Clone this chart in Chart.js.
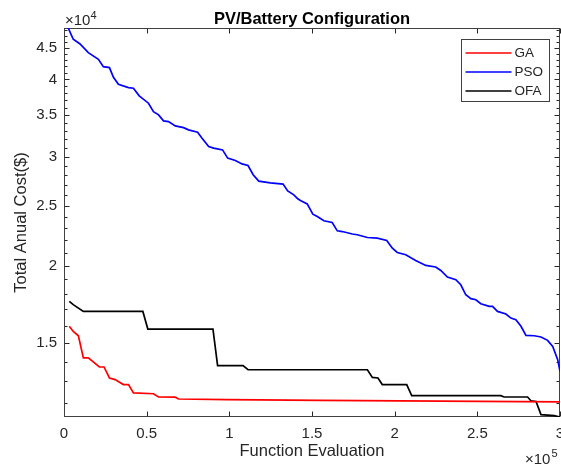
<!DOCTYPE html>
<html>
<head>
<meta charset="utf-8">
<title>PV/Battery Configuration</title>
<script src="https://cdn.jsdelivr.net/npm/chart.js@4.4.1/dist/chart.umd.min.js"></script>
<style>
    html, body { margin: 0; padding: 0; background: #fff; }
    canvas { display: block; }
</style>
</head>
<body>
<canvas id="costChart" width="561" height="470"></canvas>
<script>
// Convergence curves (function evaluations vs. total annual cost in $)
const seriesNames = ['GA', 'PSO', 'OFA'];
const seriesColors = ['#ff0000', '#0000ff', '#000000'];

const gaEvals = [3200, 5600, 8700, 11700, 14700, 21400, 24200, 27500, 30900, 35900, 39000, 42000,
    54100, 57200, 67300, 69300, 98600, 155200, 300000];
const gaCost = [15960, 15660, 15410, 14190, 14190, 13720, 13720, 13170, 13090, 12850, 12850, 12460,
    12420, 12270, 12260, 12180, 12150, 12120, 12050];

const psoEvals = [2000, 5600, 9700, 14700, 20800, 23800, 27500, 29900, 32900, 39000,
    42000, 45500, 51100, 54100, 57200, 60200, 63200, 67300, 72300, 75300,
    80800, 83500, 87500, 90500, 95900, 99000, 103600, 107700, 111300, 114400,
    117800, 124800, 132500, 135300, 139000, 141400, 143000, 147100, 150500, 153200,
    157200, 162200, 165300, 168300, 174400, 177400, 183500, 189500, 195200, 198600,
    201600, 206700, 212700, 218800, 224800, 227900, 231900, 237000, 240000, 243000,
    246100, 249100, 252100, 257200, 259200, 262200, 267300, 270300, 273300, 276400,
    279400, 284400, 288500, 292500, 295600, 298600, 300000];
const psoCost = [48800, 46440, 45630, 44190, 43110, 41940, 41790, 40320, 39290, 38790,
    38710, 37620, 36610, 35480, 35050, 34280, 34190, 33640, 33430, 33150,
    32870, 32140, 31160, 30970, 30770, 29840, 29580, 29210, 29030, 28050,
    27390, 27220, 27090, 26420, 26030, 25650, 25490, 25170, 24230, 24010,
    23640, 23490, 22770, 22710, 22500, 22440, 22210, 22160, 21970, 21350,
    21010, 20830, 20390, 20020, 19900, 19650, 19170, 18980, 18630, 17950,
    17690, 17620, 17360, 17190, 17190, 16870, 16710, 16460, 16360, 15960,
    15430, 15410, 15340, 15150, 14810, 14100, 13500];

const ofaEvals = [3200, 5600, 11700, 47700, 50700, 90100, 92900, 108300, 111300, 183500,
    186500, 189900, 192500, 207300, 210300, 264200, 266200, 280400, 282400, 285500,
    288500, 296500, 300000];
const ofaCost = [17510, 17300, 16870, 16870, 15800, 15800, 13790, 13790, 13580, 13580,
    13200, 13170, 12850, 12850, 12330, 12330, 12270, 12270, 12100, 12070,
    11490, 11450, 11390];

// axis limits and ticks
const xMin = 0, xMax = 300000;
const xTicks = [0, 50000, 100000, 150000, 200000, 250000, 300000];
const yMin = 11390, yMax = 48430;
const yTicks = [15000, 20000, 25000, 30000, 35000, 40000, 45000];
const yMinorTicks = [12000, 13000, 14000, 16000, 17000, 18000, 19000, 21000, 22000, 23000, 24000,
    26000, 27000, 28000, 29000, 31000, 32000, 33000, 34000, 36000, 37000, 38000, 39000,
    41000, 42000, 43000, 44000, 46000, 47000, 48000];

const fontFamily = '"Liberation Sans", Arial, Helvetica, sans-serif';
const axisColor = '#262626';
Chart.defaults.font.family = fontFamily;
Chart.defaults.color = axisColor;

const toPoints = (xs, ys) => xs.map((v, i) => ({ x: v, y: ys[i] }));

// MATLAB style box, inward ticks, title, exponent labels and legend
const matlabFrame = {
    id: 'matlabFrame',
    beforeDatasetsDraw(chart) {
        const { ctx, chartArea: a, scales: { x, y } } = chart;
        const L = Math.round(a.left) + 0.5, R = Math.round(a.right) - 0.5;
        const T = Math.round(a.top) + 0.5, B = Math.round(a.bottom) - 0.5;
        ctx.save();
        ctx.strokeStyle = axisColor;
        ctx.lineWidth = 1;
        ctx.beginPath();
        xTicks.forEach(v => {
            const px = Math.round(x.getPixelForValue(v)) + 0.5;
            ctx.moveTo(px, B); ctx.lineTo(px, B - 5);
            ctx.moveTo(px, T); ctx.lineTo(px, T + 5);
        });
        yTicks.forEach(v => {
            const py = Math.round(y.getPixelForValue(v)) + 0.5;
            ctx.moveTo(L, py); ctx.lineTo(L + 5, py);
            ctx.moveTo(R, py); ctx.lineTo(R - 5, py);
        });
        yMinorTicks.forEach(v => {
            const py = Math.round(y.getPixelForValue(v)) + 0.5;
            ctx.moveTo(L, py); ctx.lineTo(L + 3, py);
            ctx.moveTo(R, py); ctx.lineTo(R - 3, py);
        });
        ctx.stroke();
        ctx.strokeStyle = '#404040';
        ctx.strokeRect(L, T, R - L, B - T);
        ctx.restore();
    },
    afterDraw(chart) {
        const { ctx, chartArea: a } = chart;
        ctx.save();
        ctx.fillStyle = '#000';
        ctx.textAlign = 'center';
        ctx.textBaseline = 'alphabetic';
        ctx.font = 'bold 16.5px ' + fontFamily;
        ctx.fillText('PV/Battery Configuration', (a.left + a.right) / 2, 23.5);

        // exponent labels
        ctx.fillStyle = axisColor;
        ctx.textAlign = 'left';
        ctx.font = '15px ' + fontFamily;
        ctx.fillText('\u00d710', a.left + 1, 24.5);
        let w = ctx.measureText('\u00d710').width;
        ctx.font = '11px ' + fontFamily;
        ctx.fillText('4', a.left + 1 + w, 19);
        ctx.font = '15px ' + fontFamily;
        w = ctx.measureText('\u00d710').width;
        ctx.fillText('\u00d710', a.right - 35, 463.5);
        ctx.font = '11px ' + fontFamily;
        ctx.fillText('5', a.right - 34 + w, 457);

        // legend box, top right inside the axes
        const bw = 88, bh = 62;
        const bx = Math.round(a.right - 11 - bw) + 0.5, by = Math.round(a.top + 11) + 0.5;
        ctx.fillStyle = '#fff';
        ctx.fillRect(bx, by, bw, bh);
        ctx.strokeStyle = '#404040';
        ctx.lineWidth = 1;
        ctx.strokeRect(bx, by, bw, bh);
        ctx.font = '13.5px ' + fontFamily;
        ctx.textBaseline = 'middle';
        chart.data.datasets.forEach((ds, i) => {
            const ry = by + 13.5 + i * 19;
            ctx.strokeStyle = ds.borderColor;
            ctx.lineWidth = 1.7;
            ctx.beginPath();
            ctx.moveTo(bx + 4, ry);
            ctx.lineTo(bx + 50, ry);
            ctx.stroke();
            ctx.fillStyle = axisColor;
            ctx.fillText(ds.label, bx + 53, ry + 0.5);
        });
        ctx.restore();
    }
};

const ctx = document.getElementById('costChart').getContext('2d');
const costChart = new Chart(ctx, {
    type: 'scatter',
    data: {
        datasets: [
            { label: seriesNames[0], data: toPoints(gaEvals, gaCost), borderColor: seriesColors[0] },
            { label: seriesNames[1], data: toPoints(psoEvals, psoCost), borderColor: seriesColors[1] },
            { label: seriesNames[2], data: toPoints(ofaEvals, ofaCost), borderColor: seriesColors[2] }
        ].map(ds => Object.assign(ds, {
            showLine: true,
            borderWidth: 1.7,
            pointRadius: 0,
            tension: 0,
            clip: 0
        }))
    },
    options: {
        responsive: false,
        animation: false,
        layout: { padding: { top: 28, right: 1, bottom: 0, left: 0 } },
        plugins: {
            legend: { display: false },
            tooltip: { enabled: false },
            title: { display: false }
        },
        scales: {
            x: {
                type: 'linear',
                min: xMin,
                max: xMax,
                grid: { display: false, drawTicks: false },
                border: { display: false },
                afterBuildTicks: (axis) => { axis.ticks = xTicks.map(v => ({ value: v })); },
                afterFit: (axis) => {
                    axis.height = 53;
                    axis.paddingLeft = 0; axis.paddingRight = 0;
                    axis.paddingTop = 0; axis.paddingBottom = 0;
                },
                ticks: {
                    autoSkip: false,
                    maxRotation: 0,
                    padding: 8,
                    color: axisColor,
                    font: { size: 15 },
                    callback: (v) => String(v / 1e5)
                },
                title: {
                    display: true,
                    text: 'Function Evaluation',
                    color: axisColor,
                    font: { size: 16.5 },
                    padding: { top: 0, bottom: 8.6 }
                }
            },
            y: {
                type: 'logarithmic',
                min: yMin,
                max: yMax,
                grid: { display: false, drawTicks: false },
                border: { display: false },
                afterBuildTicks: (axis) => { axis.ticks = yTicks.map(v => ({ value: v })); },
                afterFit: (axis) => {
                    axis.width = 64;
                    axis.paddingLeft = 0; axis.paddingRight = 0;
                    axis.paddingTop = 0; axis.paddingBottom = 0;
                },
                ticks: {
                    autoSkip: false,
                    padding: 7,
                    color: axisColor,
                    font: { size: 15 },
                    callback: (v) => String(v / 1e4)
                },
                title: {
                    display: true,
                    text: 'Total Anual Cost($)',
                    color: axisColor,
                    font: { size: 16.5 },
                    padding: { top: 12, bottom: 0 }
                }
            }
        }
    },
    plugins: [matlabFrame]
});
</script>
</body>
</html>
